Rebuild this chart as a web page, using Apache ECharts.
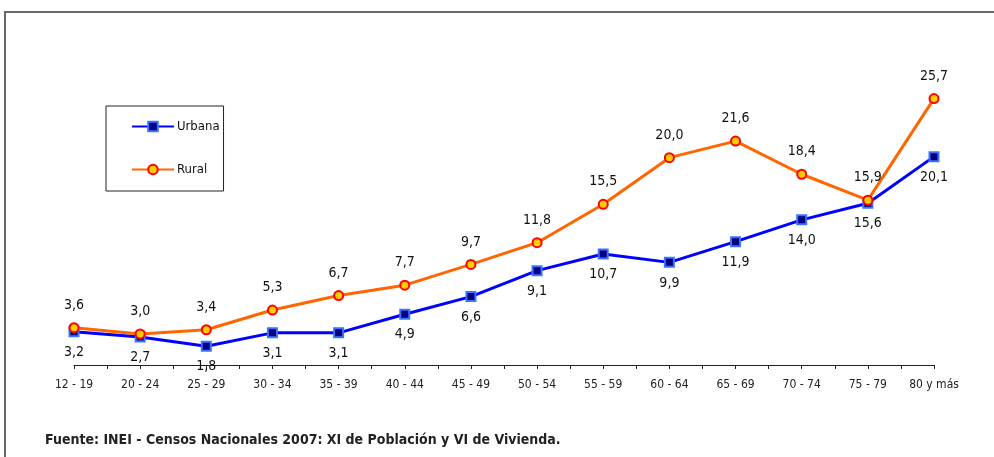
<!DOCTYPE html>
<html>
<head>
<meta charset="utf-8">
<script src="https://cdn.jsdelivr.net/npm/echarts@6/dist/echarts.min.js"></script>
<style>
html, body { margin: 0; padding: 0; background: #fff; }
#chart { width: 994px; height: 457px; }
</style>
</head>
<body>
<div id="chart"></div>
<script>
var categories = ['12 - 19', '20 - 24', '25 - 29', '30 - 34', '35 - 39', '40 - 44', '45 - 49',
    '50 - 54', '55 - 59', '60 - 64', '65 - 69', '70 - 74', '75 - 79', '80 y más'];
var urbana = [3.2, 2.7, 1.8, 3.1, 3.1, 4.9, 6.6, 9.1, 10.7, 9.9, 11.9, 14.0, 15.6, 20.1];
var rural = [3.6, 3.0, 3.4, 5.3, 6.7, 7.7, 9.7, 11.8, 15.5, 20.0, 21.6, 18.4, 15.9, 25.7];
var source = 'Fuente: INEI - Censos Nacionales 2007: XI de Población y VI de Vivienda.';

var font = "'Liberation Sans Narrow', 'DejaVu Sans Condensed', 'Liberation Sans', sans-serif";

// half-step ticks: one at each category and one between
var tickSlots = [];
for (var i = 0; i < categories.length * 2 - 1; i++) tickSlots.push('');

function comma(p) {
    return p.value.toFixed(1).replace('.', ',');
}

var chart = echarts.init(document.getElementById('chart'));
var option = {
    animation: false,
    textStyle: { fontFamily: font },
    title: {
        text: source,
        left: 40,
        top: 428,
        textStyle: { fontFamily: font, fontSize: 14, fontWeight: 'bold', color: '#222' }
    },
    graphic: [{
        type: 'rect',
        shape: { x: 5, y: 12, width: 1020, height: 480 },
        style: { fill: 'none', stroke: '#666', lineWidth: 2 },
        silent: true
    }],
    legend: {
        orient: 'vertical',
        left: 106,
        top: 106,
        padding: [14, 4, 15, 25],
        itemGap: 30,
        itemWidth: 42,
        itemHeight: 12,
        borderColor: '#222',
        borderWidth: 1,
        textStyle: { fontFamily: font, fontSize: 13, color: '#111', padding: [0, 0, 0, -2] },
        data: ['Urbana', 'Rural']
    },
    grid: { left: 74, right: 60, top: 54, bottom: 92 },
    xAxis: [{
        type: 'category',
        data: categories,
        boundaryGap: false,
        position: 'bottom',
        axisLine: { lineStyle: { color: '#222', width: 1 } },
        axisTick: { show: false },
        axisLabel: { fontFamily: font, fontSize: 12, color: '#222', margin: 14, interval: 0 }
    }, {
        type: 'category',
        data: tickSlots,
        boundaryGap: false,
        position: 'bottom',
        axisLine: { show: false },
        axisTick: { show: true, interval: 0, length: 4, lineStyle: { color: '#222' } },
        axisLabel: { show: false }
    }],
    yAxis: {
        type: 'value',
        min: 0,
        max: 30,
        show: false,
        splitLine: { show: false }
    },
    series: [{
        name: 'Urbana',
        type: 'line',
        data: urbana,
        symbol: 'rect',
        symbolSize: 9,
        z: 3,
        lineStyle: { color: '#0000ff', width: 3 },
        itemStyle: { color: '#000080', borderColor: '#3b73ff', borderWidth: 2 },
        label: {
            show: true,
            position: 'bottom',
            distance: 8,
            formatter: comma,
            fontFamily: font,
            fontSize: 14,
            color: '#111'
        }
    }, {
        name: 'Rural',
        type: 'line',
        data: rural,
        symbol: 'circle',
        symbolSize: 9,
        z: 4,
        lineStyle: { color: '#ff6600', width: 3 },
        itemStyle: { color: '#ffcc00', borderColor: '#ff0000', borderWidth: 2 },
        label: {
            show: true,
            position: 'top',
            distance: 10,
            formatter: comma,
            fontFamily: font,
            fontSize: 14,
            color: '#111'
        }
    }]
};
chart.setOption(option);
</script>
</body>
</html>
